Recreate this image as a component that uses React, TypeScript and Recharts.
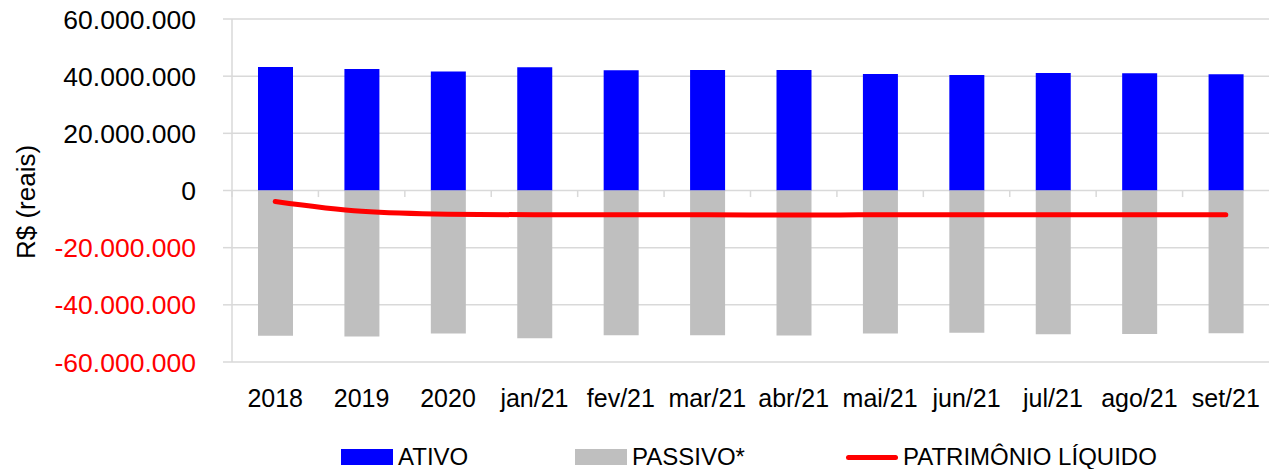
import React from 'react';
import {
  ComposedChart,
  Bar,
  Line,
  XAxis,
  YAxis,
  CartesianGrid,
  ReferenceLine,
  Legend,
  Label,
} from 'recharts';

const categories = ['2018', '2019', '2020', 'jan/21', 'fev/21', 'mar/21', 'abr/21', 'mai/21', 'jun/21', 'jul/21', 'ago/21', 'set/21'];
const ativo = [43250000, 42550000, 41600000, 43100000, 42100000, 42200000, 42200000, 40800000, 40450000, 41150000, 41000000, 40700000];
const passivo = [-50800000, -51050000, -50000000, -51700000, -50600000, -50600000, -50700000, -50000000, -49750000, -50300000, -50200000, -49900000];
const patrimonio = [-3850000, -7300000, -8300000, -8500000, -8500000, -8500000, -8600000, -8500000, -8500000, -8500000, -8500000, -8500000];
const yTicks = [-60000000, -40000000, -20000000, 0, 20000000, 40000000, 60000000];

const seriesNames = { ativo: 'ATIVO', passivo: 'PASSIVO*', pl: 'PATRIMÔNIO LÍQUIDO' };

const data = categories.map((c, i) => ({
  name: c,
  ativo: ativo[i],
  passivo: passivo[i],
  pl: patrimonio[i],
}));

const FONT = '"Liberation Sans", Arial, sans-serif';
const GRID = '#D9D9D9';

const fmt = (v: number) => {
  const s = Math.abs(Math.round(v)).toString().replace(/\B(?=(\d{3})+(?!\d))/g, '.');
  return (v < 0 ? '-' : '') + s;
};

const YTick = (props: any) => {
  const { x, y, payload } = props;
  const v = payload.value as number;
  return (
    <text x={x} y={y} dy="0.36em" textAnchor="end" fontFamily={FONT} fontSize={26.5} fill={v < 0 ? '#FF0000' : '#000000'}>
      {fmt(v)}
    </text>
  );
};

const XTick = (props: any) => {
  const { x, y, payload } = props;
  return (
    <text x={x} y={y + 45} textAnchor="middle" fontFamily={FONT} fontSize={25} fill="#000000">
      {payload.value}
    </text>
  );
};

const YLabel = () => (
  <text
    x={0}
    y={0}
    transform="translate(35,202) rotate(-90)"
    textAnchor="middle"
    fontFamily={FONT}
    fontSize={26}
    fill="#000000"
  >
    R$ (reais)
  </text>
);

const LegendContent = () => {
  const item: React.CSSProperties = { position: 'absolute', top: 0, display: 'flex', alignItems: 'center', height: 24 };
  const text: React.CSSProperties = { fontFamily: FONT, fontSize: 24, color: '#000', marginLeft: 5, lineHeight: '24px', whiteSpace: 'nowrap' };
  return (
    <div style={{ position: 'relative', width: 1272, height: 30 }}>
      <div style={{ ...item, left: 341 }}>
        <div style={{ width: 52, height: 16, background: '#0000FF' }} />
        <span style={text}>{seriesNames.ativo}</span>
      </div>
      <div style={{ ...item, left: 575 }}>
        <div style={{ width: 52, height: 16, background: '#BFBFBF' }} />
        <span style={text}>{seriesNames.passivo}</span>
      </div>
      <div style={{ ...item, left: 846 }}>
        <div style={{ width: 52, height: 5, background: '#FF0000', borderRadius: 3 }} />
        <span style={text}>{seriesNames.pl}</span>
      </div>
    </div>
  );
};

export default function App() {
  return (
    <div style={{ position: 'absolute', left: 0, top: 0, width: 1272, height: 469, background: '#fff' }}>
      <ComposedChart
        width={1272}
        height={469}
        data={data}
        stackOffset="sign"
        margin={{ top: 19, right: 3, left: 0, bottom: 67 }}
      >
        <CartesianGrid vertical={false} stroke={GRID} strokeWidth={1.5} />
        <XAxis
          dataKey="name"
          axisLine={false}
          tickLine={false}
          tickSize={0}
          tickMargin={0}
          height={40}
          interval={0}
          tick={<XTick />}
        />
        <YAxis
          width={232}
          domain={[-60000000, 60000000]}
          ticks={yTicks}
          interval={0}
          axisLine={{ stroke: GRID, strokeWidth: 1.5 }}
          tickLine={{ stroke: GRID, strokeWidth: 1.5 }}
          tickSize={9}
          tickMargin={27}
          tick={<YTick />}
        >
          <Label content={<YLabel />} />
        </YAxis>
        {categories.map((c) => (
          <ReferenceLine
            key={'t' + c}
            segment={[{ x: c, y: 0 }, { x: c, y: -2300000 }]}
            position="start"
            stroke={GRID}
            strokeWidth={1.5}
          />
        ))}
        <ReferenceLine
          segment={[{ x: categories[categories.length - 1], y: 0 }, { x: categories[categories.length - 1], y: -2300000 }]}
          position="end"
          stroke={GRID}
          strokeWidth={1.5}
        />
        <Bar dataKey="ativo" name={seriesNames.ativo} stackId="a" fill="#0000FF" barSize={35} isAnimationActive={false} />
        <Bar dataKey="passivo" name={seriesNames.passivo} stackId="a" fill="#BFBFBF" barSize={35} isAnimationActive={false} />
        <Line
          dataKey="pl"
          name={seriesNames.pl}
          type="monotone"
          stroke="#FF0000"
          strokeWidth={5}
          strokeLinecap="round"
          dot={false}
          activeDot={false}
          isAnimationActive={false}
        />
        <Legend
          layout="horizontal"
          verticalAlign="middle"
          align="center"
          content={<LegendContent />}
          wrapperStyle={{ position: 'absolute', top: 445, left: 0, width: 1272, height: 30 }}
        />
      </ComposedChart>
    </div>
  );
}
